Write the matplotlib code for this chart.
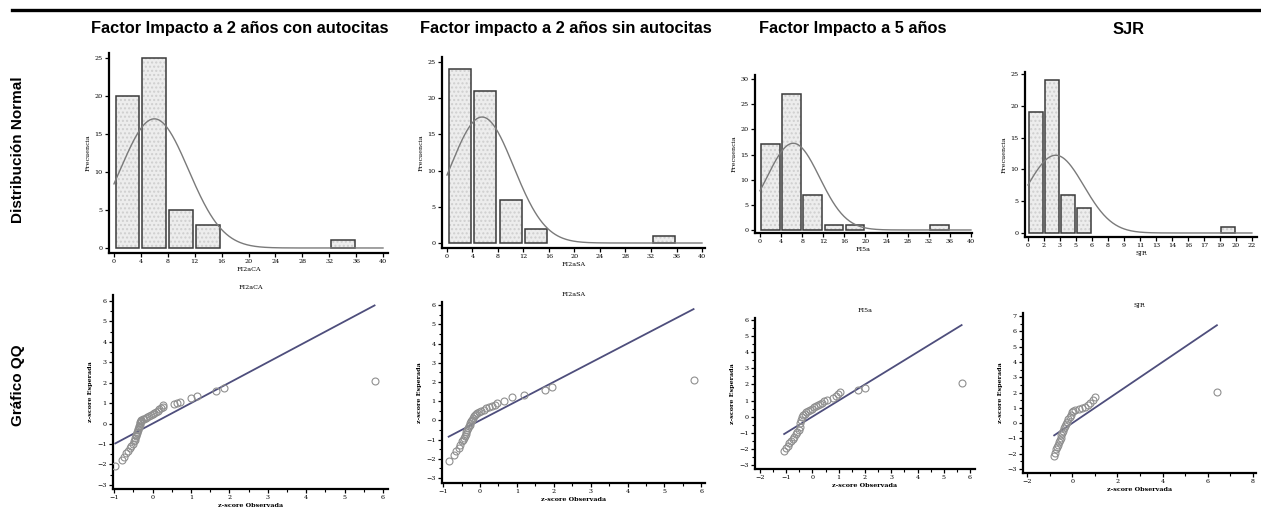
import numpy as np
import matplotlib
matplotlib.use("Agg")
import matplotlib.pyplot as plt
from matplotlib.ticker import MultipleLocator

W, H = 1261, 511

# ---- column titles / row labels
titulos = ["Factor Impacto a 2 años con autocitas", "Factor impacto a 2 años sin autocitas",
           "Factor Impacto a 5 años", "SJR"]
filas = ["Distribución Normal", "Gráfico QQ"]
variables = ["FI2aCA", "FI2aSA", "FI5a", "SJR"]

# ---- histogram data (bin left edges, counts)
bins_ca = [0, 4, 8, 12, 32]
frec_ca = [20, 25, 5, 3, 1]
bins_sa = [0, 4, 8, 12, 32]
frec_sa = [24, 21, 6, 2, 1]
bins_5a = [0, 4, 8, 12, 16, 32]
frec_5a = [17, 27, 7, 1, 1, 1]
ancho_sjr = 22 / 14
bins_sjr = [0, ancho_sjr, 2 * ancho_sjr, 3 * ancho_sjr, 12 * ancho_sjr]
frec_sjr = [19, 24, 6, 4, 1]
ancho_bins = [4, 4, 4, ancho_sjr]

# normal fit (mean, sd, n)
media = [6.0, 5.5, 6.3, 2.72]
desv = [5.07, 4.95, 5.0, 2.77]
n_obs = 54

sjr_ticks = np.linspace(0, 22, 15)
sjr_labels = ["0", "2", "3", "5", "6", "8", "9", "11", "13", "14", "16", "17", "19", "20", "22"]

# ---- QQ data (observed z-score, expected z-score)
obs_ca = [-0.97, -0.80, -0.74, -0.69, -0.63, -0.58, -0.55, -0.51, -0.48, -0.47, -0.45, -0.44,
          -0.42, -0.41, -0.40, -0.38, -0.37, -0.36, -0.35, -0.34, -0.33, -0.32, -0.31, -0.30,
          -0.29, -0.26, -0.22, -0.18, -0.14, -0.10, -0.05, 0.00, 0.05, 0.10, 0.14, 0.18, 0.22,
          0.26, 0.28, 0.55, 0.63, 0.71, 1.00, 1.17, 1.65, 1.85, 5.78]
esp_ca = [-2.07, -1.77, -1.63, -1.46, -1.33, -1.20, -1.09, -0.98, -0.85, -0.78, -0.70, -0.62,
          -0.55, -0.48, -0.40, -0.33, -0.26, -0.19, -0.12, -0.05, 0.02, 0.08, 0.11, 0.13,
          0.16, 0.20, 0.24, 0.28, 0.33, 0.38, 0.43, 0.48, 0.53, 0.58, 0.64, 0.70, 0.76,
          0.82, 0.90, 0.97, 1.02, 1.07, 1.27, 1.35, 1.57, 1.76, 2.08]
obs_sa = [-0.85, -0.71, -0.64, -0.58, -0.53, -0.49, -0.46, -0.44, -0.42, -0.39, -0.37, -0.35,
          -0.33, -0.30, -0.28, -0.26, -0.24, -0.21, -0.19, -0.17, -0.14, -0.12, -0.08, -0.03,
          0.03, 0.10, 0.17, 0.25, 0.33, 0.40, 0.46, 0.64, 0.87, 1.19, 1.77, 1.95, 5.79]
esp_sa = [-2.10, -1.78, -1.61, -1.44, -1.26, -1.09, -1.00, -0.92, -0.80, -0.69, -0.58, -0.48,
          -0.40, -0.31, -0.22, -0.14, -0.05, 0.03, 0.12, 0.21, 0.28, 0.35, 0.40, 0.44,
          0.50, 0.56, 0.62, 0.68, 0.75, 0.82, 0.90, 0.99, 1.21, 1.33, 1.59, 1.76, 2.10]
obs_5a = [-1.08, -1.02, -0.95, -0.88, -0.82, -0.76, -0.70, -0.64, -0.58, -0.53, -0.49, -0.46,
          -0.43, -0.41, -0.36, -0.30, -0.24, -0.17, -0.10, -0.03, 0.05, 0.12, 0.20, 0.28,
          0.36, 0.45, 0.54, 0.79, 0.88, 0.97, 1.05, 1.75, 2.00, 5.68]
esp_5a = [-2.13, -1.95, -1.80, -1.66, -1.52, -1.38, -1.24, -1.10, -0.95, -0.80, -0.62, -0.42,
          -0.22, -0.05, 0.08, 0.18, 0.28, 0.36, 0.43, 0.50, 0.58, 0.65, 0.72, 0.80,
          0.87, 0.95, 1.03, 1.14, 1.28, 1.42, 1.55, 1.66, 1.76, 2.07]
obs_sjr = [-0.80, -0.76, -0.72, -0.68, -0.64, -0.60, -0.56, -0.52, -0.48, -0.44, -0.40, -0.36,
           -0.32, -0.27, -0.22, -0.17, -0.12, -0.07, -0.03, 0.05, 0.12, 0.30, 0.45, 0.56,
           0.68, 0.79, 0.90, 1.00, 6.40]
esp_sjr = [-2.13, -1.92, -1.72, -1.55, -1.40, -1.25, -1.10, -0.95, -0.80, -0.65, -0.50, -0.35,
           -0.20, -0.05, 0.10, 0.25, 0.40, 0.55, 0.76, 0.82, 0.87, 0.95, 1.02, 1.08,
           1.20, 1.30, 1.50, 1.74, 2.06]

# pixel boxes (left, right, top, bottom) and limits
hist_px = [(109, 388, 53, 253), (442, 705, 57, 248), (755, 972, 75, 233), (1025, 1257, 72, 237)]
hist_xlim = [(-0.74, 40.74), (-0.78, 40.47), (-0.95, 40.2), (-0.29, 22.5)]
hist_ylim = [(-0.66, 25.66), (-0.69, 25.7), (-0.6, 30.8), (-0.63, 25.3)]
qq_px = [(113, 388, 295, 489), (442, 705, 302, 483), (755, 975, 318, 469), (1023, 1256, 313, 473)]
qq_xlim = [(-1.03, 6.13), (-1.03, 6.1), (-2.19, 6.19), (-2.18, 8.13)]
qq_ylim = [(-3.2, 6.29), (-3.26, 6.16), (-3.25, 6.12), (-3.26, 7.2)]

SERIF = "DejaVu Serif"
TF = 4.6


def add_ax(box):
    l, r, t, b = box
    return fig.add_axes([l / W, 1 - b / H, (r - l) / W, (b - t) / H])


def estilo(ax):
    for s in ("top", "right"):
        ax.spines[s].set_visible(False)
    for s in ("left", "bottom"):
        ax.spines[s].set_linewidth(1.6)
    ax.tick_params(which="major", direction="out", length=3, width=0.9, labelsize=TF, pad=1.5)
    ax.tick_params(which="minor", direction="out", length=2, width=0.8)
    for lab in ax.get_xticklabels() + ax.get_yticklabels():
        lab.set_family(SERIF)
    ax.patch.set_alpha(0)


fig = plt.figure(figsize=(W / 100, H / 100), dpi=100)

# top rule
fig.add_artist(plt.Line2D([12 / W, 1], [1 - 10 / H, 1 - 10 / H], color="black", lw=2.4))

tit_x = [240, 566, 853, 1129]
for t, x in zip(titulos, tit_x):
    fig.text(x / W, 1 - 29 / H, t, ha="center", va="center", fontsize=11.8,
             fontweight="bold", family="Liberation Sans")
fig.text(18 / W, 1 - 150 / H, filas[0], rotation=90, ha="center", va="center",
         fontsize=11, fontweight="bold", family="Liberation Sans")
fig.text(18 / W, 1 - 385 / H, filas[1], rotation=90, ha="center", va="center",
         fontsize=11, fontweight="bold", family="Liberation Sans")

hist_bins = [bins_ca, bins_sa, bins_5a, bins_sjr]
hist_frec = [frec_ca, frec_sa, frec_5a, frec_sjr]
for i in range(4):
    ax = add_ax(hist_px[i])
    bw = ancho_bins[i]
    centros = np.array(hist_bins[i]) + bw / 2
    ax.bar(centros, hist_frec[i], width=bw * 0.88, color="#ededed", edgecolor="#cfcfcf",
           hatch="....", lw=0, zorder=1)
    ax.bar(centros, hist_frec[i], width=bw * 0.88, fill=False, edgecolor="#3a3a3a",
           lw=1.1, zorder=2)
    xmax = 40 if i < 3 else 22
    xs = np.linspace(0, xmax, 300)
    ys = n_obs * bw / (desv[i] * np.sqrt(2 * np.pi)) * np.exp(-0.5 * ((xs - media[i]) / desv[i]) ** 2)
    ax.plot(xs, ys, color="#7a7a7a", lw=1.0, zorder=3)
    ax.set_xlim(*hist_xlim[i])
    ax.set_ylim(*hist_ylim[i])
    if i < 3:
        ax.set_xticks(np.arange(0, 41, 4))
    else:
        ax.set_xticks(sjr_ticks)
        ax.set_xticklabels(sjr_labels)
    ax.set_yticks(np.arange(0, hist_ylim[i][1], 5))
    estilo(ax)
    ax.set_xlabel(variables[i], fontsize=TF, family=SERIF, labelpad=2)
    ax.set_ylabel("Frecuencia", fontsize=TF, family=SERIF, labelpad=3)

qq_obs = [obs_ca, obs_sa, obs_5a, obs_sjr]
qq_esp = [esp_ca, esp_sa, esp_5a, esp_sjr]
for i in range(4):
    ax = add_ax(qq_px[i])
    o = np.array(qq_obs[i])
    e = np.array(qq_esp[i])
    ax.plot([o.min(), o.max()], [o.min(), o.max()], color="#4e4e7c", lw=1.3, zorder=2)
    ax.plot(o, e, "o", mfc="none", mec="#8f8f8f", ms=5, mew=0.8, zorder=3)
    ax.set_xlim(*qq_xlim[i])
    ax.set_ylim(*qq_ylim[i])
    if i < 3:
        ax.xaxis.set_major_locator(MultipleLocator(1))
        ax.xaxis.set_minor_locator(MultipleLocator(0.5))
    else:
        ax.xaxis.set_major_locator(MultipleLocator(2))
        ax.xaxis.set_minor_locator(MultipleLocator(1))
    ax.yaxis.set_major_locator(MultipleLocator(1))
    ax.yaxis.set_minor_locator(MultipleLocator(0.5))
    estilo(ax)
    ax.set_title(variables[i], fontsize=TF, family=SERIF, pad=4)
    ax.set_xlabel("z-score Observada", fontsize=TF, family=SERIF, fontweight="bold", labelpad=2)
    ax.set_ylabel("z-score Esperada", fontsize=TF, family=SERIF, fontweight="bold", labelpad=3)

fig.savefig("out.png", dpi=100)
